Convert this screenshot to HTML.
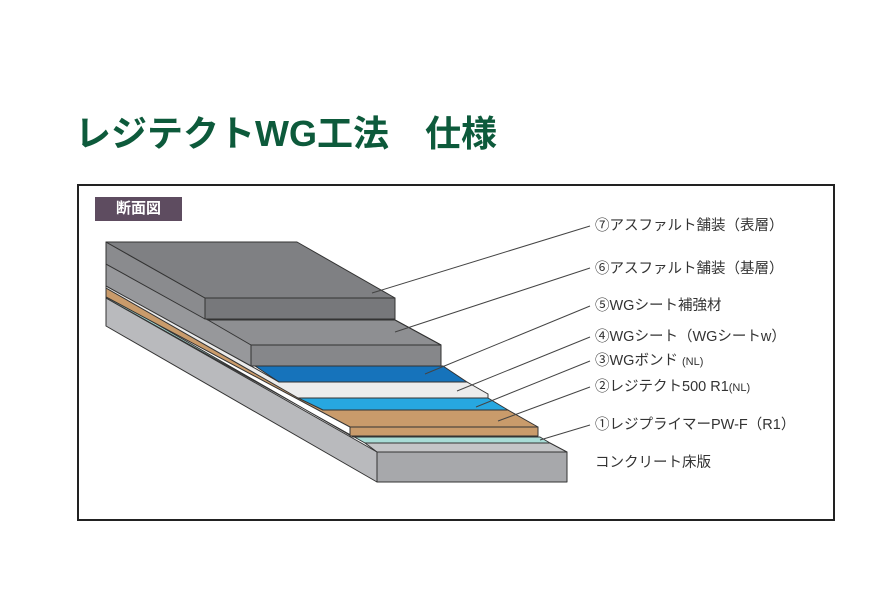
<!DOCTYPE html>
<html><head><meta charset="utf-8"><style>
body{margin:0;width:875px;height:615px;background:#fff;overflow:hidden;position:relative;font-family:"Liberation Sans","Noto Sans CJK JP",sans-serif}
.t{position:absolute;left:75px;top:105px;font-size:36px;font-weight:bold;color:#0d5a3b;white-space:nowrap;letter-spacing:0px}
.box{position:absolute;left:77px;top:184px;width:754px;height:333px;border:2px solid #222}
.badge{position:absolute;left:95px;top:197px;width:87px;height:24px;background:#5e4c60;color:#fff;font-size:15px;font-weight:bold;line-height:24px;text-align:center}
svg{position:absolute;left:0;top:0}
</style></head><body>
<div class="t">レジテクトWG工法　仕様</div>
<div class="box"></div>
<div class="badge">断面図</div>
<svg width="875" height="615" viewBox="0 0 875 615">
<g stroke="#333" stroke-width="1" stroke-linejoin="round">
<polygon points="106,298 377,452 377,482 106,326" fill="#b9babd"/>
<polygon points="365,443 550,443 567,452 377,452" fill="#c4c5c7"/>
<rect x="377" y="452" width="190" height="30" fill="#a7a8ab"/>
<polygon points="106,295 353,437 540,437 550,443 365,443 106,298" fill="#a8dcd6"/>
<polygon points="106,288 323,410 508,410 538,427 350,427 106,297" fill="#c99b6b"/>
<rect x="350" y="427" width="188" height="9" fill="#c99b6b"/>
<polygon points="298,398 488,398 508,410 323,410" fill="#27a7e0"/>
<polygon points="106,283 279,382 467,382 488,394 488,398 298,398 106,288" fill="#ececec"/>
<polygon points="255,366 443,366 467,382 279,382" fill="#1673bb"/>
<polygon points="106,264 208,320 395,320 441,345 251,345 251,366 106,286" fill="#97989b"/>
<polygon points="208,320 395,320 441,345 251,345" fill="#8e8f92"/>
<rect x="251" y="345" width="190" height="21" fill="#86878a"/>
<polygon points="106,242 205,298 205,319 106,264" fill="#8a8b8e"/>
<polygon points="106,242 297,242 395,298 205,298" fill="#7f8083"/>
<rect x="205" y="298" width="190" height="21" fill="#77787b"/>
</g>
<g stroke="#444" stroke-width="1">
<line x1="372" y1="293" x2="590" y2="226"/>
<line x1="395" y1="332" x2="590" y2="268"/>
<line x1="425" y1="374" x2="590" y2="306"/>
<line x1="457" y1="391" x2="590" y2="337"/>
<line x1="476" y1="407" x2="590" y2="361"/>
<line x1="498" y1="421" x2="590" y2="387"/>
<line x1="540" y1="440" x2="590" y2="425"/>
</g>
<g font-family="Liberation Sans, Noto Sans CJK JP, sans-serif" font-size="14.5" fill="#333">
<text x="595" y="230">⑦アスファルト舗装（表層）</text>
<text x="595" y="273">⑥アスファルト舗装（基層）</text>
<text x="595" y="310">⑤WGシート補強材</text>
<text x="595" y="341">④WGシート（WGシートw）</text>
<text x="595" y="365">③WGボンド <tspan font-size="11">(NL)</tspan></text>
<text x="595" y="391">②レジテクト500 R1<tspan font-size="11">(NL)</tspan></text>
<text x="595" y="429">①レジプライマーPW-F（R1）</text>
<text x="595" y="467">コンクリート床版</text>
</g>
</svg>
</body></html>
